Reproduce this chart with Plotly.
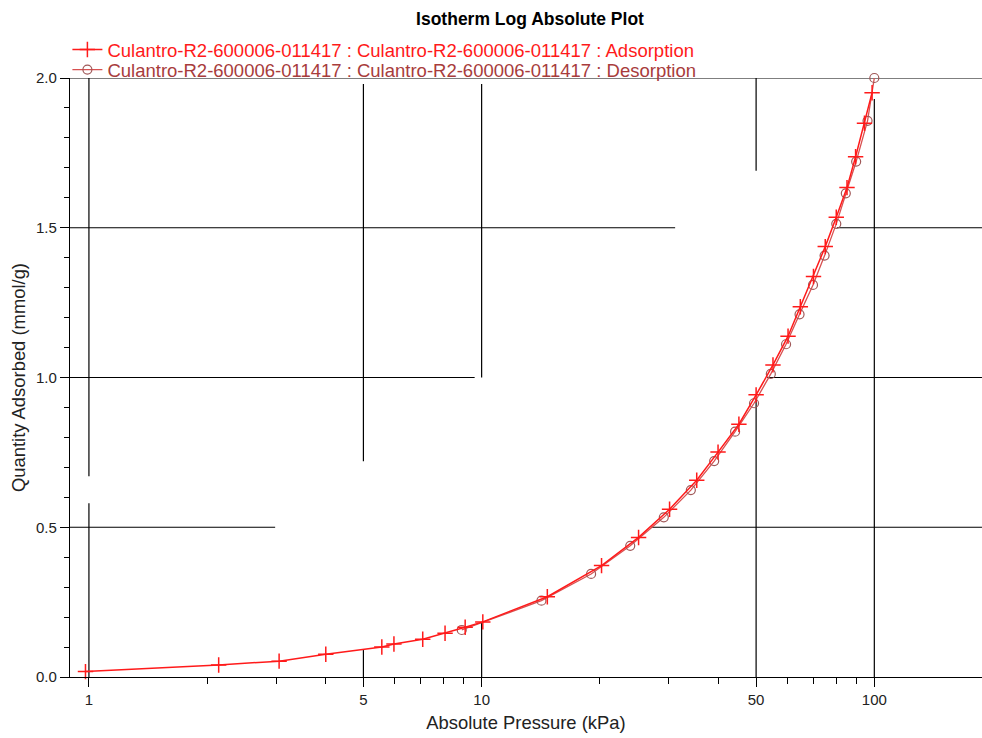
import plotly.graph_objects as go

# ---- data ----
ads_pressure = [0.98, 2.14, 3.05, 4.01, 5.57, 5.98, 7.08, 8.07, 9.08, 10.07, 14.7, 20.2,
                25.1, 30.1, 35.3, 40.0, 45.2, 50.0, 55.2, 60.3, 64.8, 70.0, 75.0, 80.0,
                85.2, 89.6, 94.4, 98.7]
ads_quantity = [0.018, 0.040, 0.053, 0.076, 0.100, 0.110, 0.126, 0.146, 0.166, 0.184, 0.268, 0.372,
                0.466, 0.560, 0.657, 0.751, 0.844, 0.942, 1.042, 1.138, 1.236, 1.337, 1.437, 1.535,
                1.634, 1.737, 1.849, 1.951]

des_pressure = [100.0, 96.1, 89.9, 84.6, 80.0, 74.7, 69.8, 64.5, 59.6, 54.5, 49.4, 44.2,
                39.1, 34.1, 29.1, 23.9, 19.0, 14.2, 8.9]
des_quantity = [2.000, 1.857, 1.721, 1.615, 1.513, 1.407, 1.309, 1.211, 1.111, 1.012, 0.914, 0.819,
                0.721, 0.624, 0.533, 0.438, 0.344, 0.255, 0.157]

x_major_ticks = [1, 5, 10, 50, 100]
x_tick_labels = ["1", "5", "10", "50", "100"]
x_minor_ticks = [2, 3, 4, 6, 7, 8, 9, 20, 30, 40, 60, 70, 80, 90]

ads_name = "Culantro-R2-600006-011417 : Culantro-R2-600006-011417 : Adsorption"
des_name = "Culantro-R2-600006-011417 : Culantro-R2-600006-011417 : Desorption"

# grid segments as drawn in the reference (value, start, end)
v_grid = [(1, 0.67, 2.0), (1, 0.0, 0.58), (5, 0.72, 1.98), (5, 0.0, 0.09),
          (10, 1.0, 1.98), (10, 0.0, 0.184), (50, 1.69, 2.0), (50, 0.0, 0.93),
          (100, 0.0, 1.93)]
h_grid = [(0.5, 0.895, 2.98), (0.5, 27.0, 188), (1.0, 0.895, 9.6), (1.0, 53.3, 188),
          (1.5, 0.895, 31.1), (1.5, 80.3, 188), (2.0, 0.895, 188)]

ADS_COLOR = "#ff1a1a"
DES_COLOR = "#a83c3c"
FONT = "Liberation Sans, Arial, sans-serif"

W, H = 982, 738
# target positions on the page (body margin removed via post_script)
PLOT_L, PLOT_R, PLOT_T, PLOT_B = 70, 982, 78, 677
M_L = PLOT_L
M_R = W - PLOT_R
M_B = H - PLOT_B
M_T = 12
paper_h = H - M_T - M_B
plot_w = W - M_L - M_R
y_domain_top = (PLOT_B - PLOT_T) / paper_h


def paper_y(page_px):
    return (PLOT_B - page_px) / paper_h


def paper_x(page_px):
    return (page_px - PLOT_L) / plot_w


fig = go.Figure()
fig.add_trace(go.Scatter(
    x=des_pressure, y=des_quantity, mode="lines+markers",
    name=f'<span style="color:{DES_COLOR}">{des_name}</span>',
    line=dict(color="#d85050", width=1.3),
    marker=dict(symbol="circle-open", size=9, color="#a05858", line=dict(width=1.2)),
    cliponaxis=False, legend="legend2",
))
fig.add_trace(go.Scatter(
    x=ads_pressure, y=ads_quantity, mode="lines+markers",
    name=f'<span style="color:{ADS_COLOR}">{ads_name}</span>',
    line=dict(color=ADS_COLOR, width=1.5),
    marker=dict(symbol="cross-thin-open", size=11, color=ADS_COLOR, line=dict(width=1.5, color=ADS_COLOR)),
    cliponaxis=False, legend="legend",
))

shapes = []
for xv, y0, y1 in v_grid:
    shapes.append(dict(type="line", xref="x", yref="y", x0=xv, x1=xv, y0=y0, y1=y1,
                       line=dict(color="black", width=1.2), layer="below"))
for yv, x0, x1 in h_grid:
    shapes.append(dict(type="line", xref="x", yref="y", x0=x0, x1=x1, y0=yv, y1=yv,
                       line=dict(color="black", width=1.2), layer="below"))

legend_common = dict(x=paper_x(67.4), xref="paper", xanchor="left", yref="paper", yanchor="middle",
                     font=dict(size=18.5), bgcolor="rgba(0,0,0,0)", itemwidth=30)

fig.update_layout(
    width=W, height=H,
    margin=dict(l=M_L, r=M_R, t=M_T, b=M_B, autoexpand=False),
    paper_bgcolor="white", plot_bgcolor="white",
    font=dict(family=FONT, size=15, color="#222222"),
    title=dict(text="<b>Isotherm Log Absolute Plot</b>", font=dict(size=17.5, color="black"),
               x=530 / W, xref="container", xanchor="center",
               y=1 - 19 / H, yref="container", yanchor="middle"),
    showlegend=True,
    legend=dict(y=paper_y(50), **legend_common),
    legend2=dict(y=paper_y(70), **legend_common),
    shapes=shapes,
)
fig.update_xaxes(
    type="log", range=[-0.0482, 2.2742], automargin=False,
    showgrid=False, zeroline=False,
    showline=True, linecolor="black", linewidth=1.2,
    tickmode="array", tickvals=x_major_ticks, ticktext=x_tick_labels,
    ticks="outside", ticklen=9, tickcolor="black", tickwidth=1,
    minor=dict(tickmode="array", tickvals=x_minor_ticks, ticks="outside", ticklen=6,
               tickcolor="black", tickwidth=1, showgrid=False),
    title=dict(text="Absolute Pressure (kPa)", standoff=9, font=dict(size=18.4)),
)
fig.update_yaxes(
    range=[0, 2.0], domain=[0, y_domain_top], automargin=False,
    showgrid=False, zeroline=False,
    showline=True, linecolor="black", linewidth=1.2,
    tickmode="linear", tick0=0, dtick=0.5, tickformat=".1f",
    ticks="outside", ticklen=9, tickcolor="black", tickwidth=1,
    minor=dict(dtick=0.1, ticks="outside", ticklen=5, tickcolor="black", tickwidth=1, showgrid=False),
    title=dict(text="Quantity Adsorbed (mmol/g)", standoff=5, font=dict(size=18.4)),
)

fig.write_html("out.html",
               config={"displayModeBar": False},
               post_script="document.body.style.margin='0';document.body.style.overflow='hidden';")
